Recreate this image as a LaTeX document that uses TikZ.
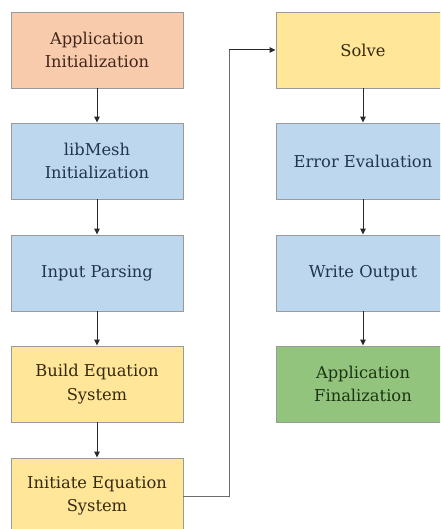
\documentclass[tikz,border=0pt]{standalone}
\usepackage{fontspec}
\setmainfont{DejaVu Serif}
\usetikzlibrary{arrows.meta}
\definecolor{orfill}{HTML}{F8CBAD}
\definecolor{ortext}{HTML}{43261A}
\definecolor{blfill}{HTML}{BDD7EE}
\definecolor{bltext}{HTML}{22354F}
\definecolor{yefill}{HTML}{FFE699}
\definecolor{yetext}{HTML}{36290F}
\definecolor{grfill}{HTML}{93C47D}
\definecolor{grtext}{HTML}{1B3413}
\definecolor{edge}{HTML}{9A9A9A}
\definecolor{arr}{HTML}{2A2A2A}
\begin{document}
\begin{tikzpicture}[x=1pt,y=-1pt,
  box/.style={draw=edge, line width=0.9pt, minimum width=172pt, minimum height=76pt,
    inner sep=0pt, align=center, font=\fontsize{16.3}{23.5}\selectfont},
  orbox/.style={box, fill=orfill, text=ortext},
  blbox/.style={box, fill=blfill, text=bltext},
  yebox/.style={box, fill=yefill, text=yetext},
  grbox/.style={box, fill=grfill, text=grtext},
  flow/.style={draw=arr, line width=1pt, -{Triangle[length=6pt,width=5.5pt]}}]
\useasboundingbox (0,0) rectangle (440,529);
\clip (0,0) rectangle (440,529);
\fill[white] (0,0) rectangle (440,529);
\node[orbox] (appinit) at (97,50) {Application\\Initialization};
\node[blbox] (libmesh) at (97,161) {libMesh\\Initialization};
\node[blbox] (input) at (97,273) {Input Parsing};
\node[yebox] (build) at (97,384) {Build Equation\\System};
\node[yebox] (initiate) at (97,496) {Initiate Equation\\System};
\node[yebox, minimum width=174pt] (solve) at (363,50) {Solve};
\node[blbox, minimum width=174pt] (error) at (363,161) {Error Evaluation};
\node[blbox, minimum width=174pt] (write) at (363,273) {Write Output};
\node[grbox, minimum width=174pt] (final) at (363,384) {Application\\Finalization};
\coordinate (turn) at (229,50);
\draw[flow] (appinit) -- (libmesh);
\draw[flow] (libmesh) -- (input);
\draw[flow] (input) -- (build);
\draw[flow] (build) -- (initiate);
\draw[flow] (solve) -- (error);
\draw[flow] (error) -- (write);
\draw[flow] (write) -- (final);
\draw[draw=edge!70!black, line width=1pt] (initiate.east) -| (turn);
\draw[flow] (turn) -- (solve.west);
\end{tikzpicture}
\end{document}
